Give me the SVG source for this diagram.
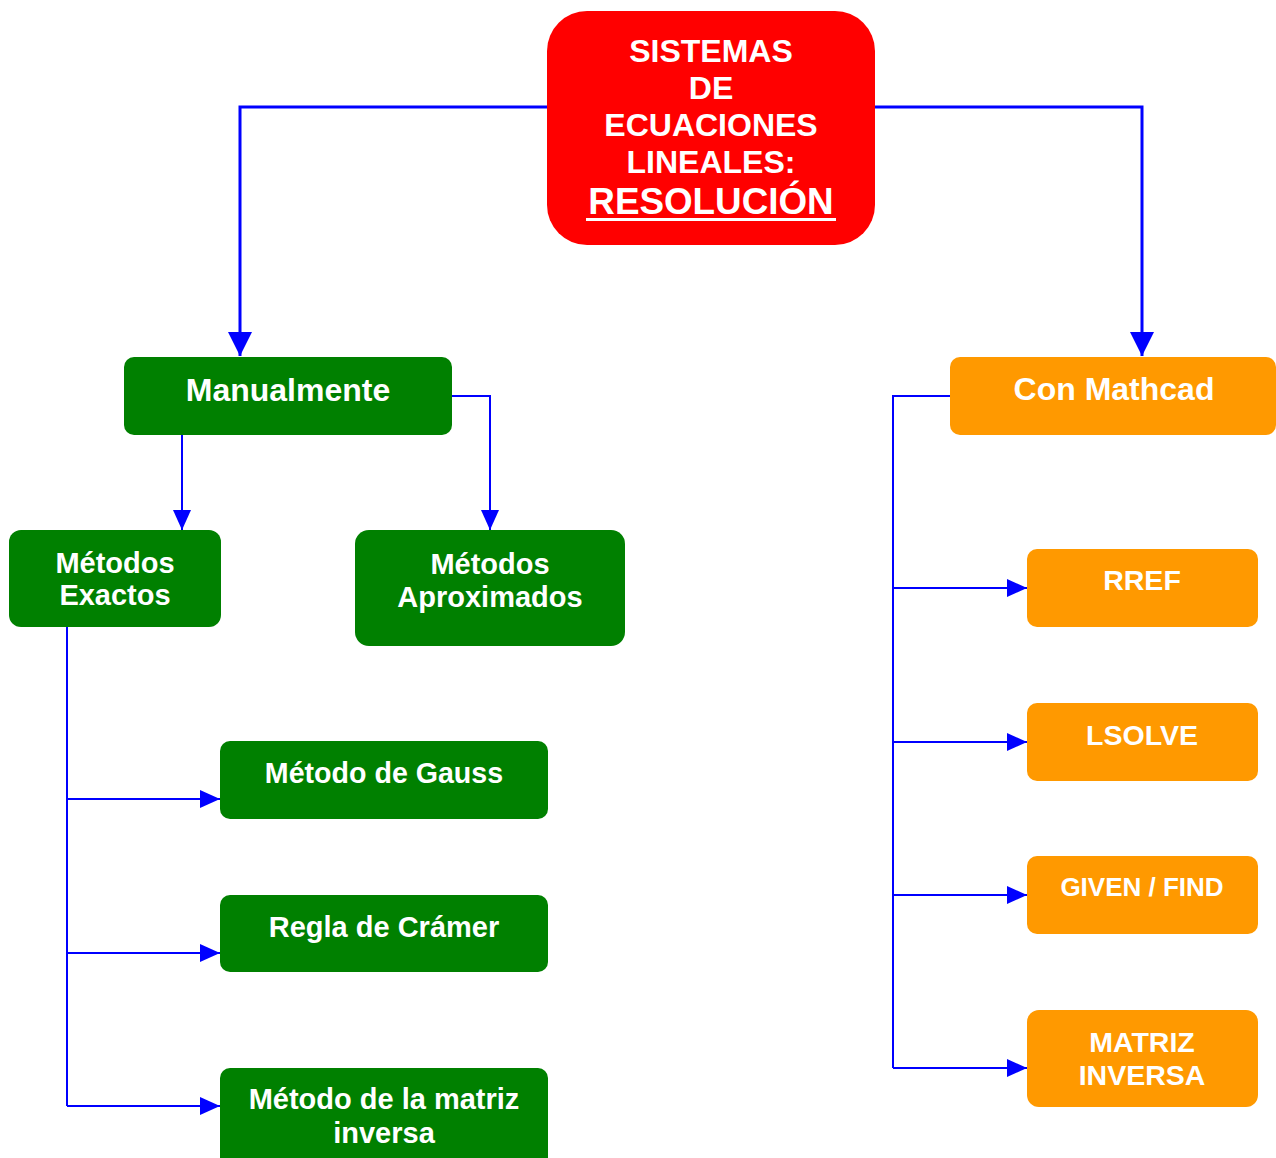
<svg xmlns="http://www.w3.org/2000/svg" width="1276" height="1158" viewBox="0 0 1276 1158">
<style>
.t{font-family:"Liberation Sans",Arial,sans-serif;font-weight:bold;fill:#fff;text-anchor:middle}
.g{fill:#008000}
.o{fill:#FF9900}
.c{fill:none;stroke:#0000FF;stroke-width:2}
.c3{fill:none;stroke:#0000FF;stroke-width:3}
</style>
<defs>
<marker id="ab" markerUnits="userSpaceOnUse" viewBox="0 0 24 24" refX="24" refY="12" markerWidth="24" markerHeight="24" orient="auto"><path d="M0,0 L24,12 L0,24 Z" fill="#0000FF"/></marker>
<marker id="as" markerUnits="userSpaceOnUse" viewBox="0 0 20 18" refX="20" refY="9" markerWidth="20" markerHeight="18" orient="auto"><path d="M0,0 L20,9 L0,18 Z" fill="#0000FF"/></marker>
</defs>
<rect width="1276" height="1158" fill="#fff"/>
<g id="connectors">
<path class="c3" d="M547,107 H240 V356" marker-end="url(#ab)"/>
<path class="c3" d="M875,107 H1142 V356" marker-end="url(#ab)"/>
<path class="c" d="M182,435 V530" marker-end="url(#as)"/>
<path class="c" d="M452,396 H490 V530" marker-end="url(#as)"/>
<path class="c" d="M67,627 V1106"/>
<path class="c" d="M67,799 H220" marker-end="url(#as)"/>
<path class="c" d="M67,953 H220" marker-end="url(#as)"/>
<path class="c" d="M67,1106 H220" marker-end="url(#as)"/>
<path class="c" d="M950,396 H893 V1068"/>
<path class="c" d="M893,588 H1027" marker-end="url(#as)"/>
<path class="c" d="M893,742 H1027" marker-end="url(#as)"/>
<path class="c" d="M893,895 H1027" marker-end="url(#as)"/>
<path class="c" d="M893,1068 H1027" marker-end="url(#as)"/>
</g>
<g id="root">
<rect x="547" y="11" width="328" height="234" rx="40" fill="#FF0000"/>
<text class="t" font-size="32" x="711" y="62">SISTEMAS</text>
<text class="t" font-size="32" x="711" y="99">DE</text>
<text class="t" font-size="32" x="711" y="136">ECUACIONES</text>
<text class="t" font-size="32" x="711" y="173">LINEALES:</text>
<text class="t" font-size="36.8" x="711" y="214">RESOLUCIÓN</text>
<rect x="586" y="218" width="250" height="3" fill="#fff"/>
</g>
<g id="manualmente">
<rect class="g" x="124" y="357" width="328" height="78" rx="10"/>
<text class="t" font-size="32" x="288" y="401">Manualmente</text>
</g>
<g id="mathcad">
<rect class="o" x="950" y="357" width="326" height="78" rx="10"/>
<text class="t" font-size="32" x="1114" y="400">Con Mathcad</text>
</g>
<g id="exactos">
<rect class="g" x="9" y="530" width="212" height="97" rx="12"/>
<text class="t" font-size="29" x="115" y="573">Métodos</text>
<text class="t" font-size="29" x="115" y="605">Exactos</text>
</g>
<g id="aproximados">
<rect class="g" x="355" y="530" width="270" height="116" rx="14"/>
<text class="t" font-size="29" x="490" y="574">Métodos</text>
<text class="t" font-size="29" x="490" y="607">Aproximados</text>
</g>
<g id="gauss">
<rect class="g" x="220" y="741" width="328" height="78" rx="10"/>
<text class="t" font-size="28.6" x="384" y="783">Método de Gauss</text>
</g>
<g id="cramer">
<rect class="g" x="220" y="895" width="328" height="77" rx="10"/>
<text class="t" font-size="29" x="384" y="937">Regla de Crámer</text>
</g>
<g id="matriz-inversa">
<rect class="g" x="220" y="1068" width="328" height="100" rx="10"/>
<text class="t" font-size="29" x="384" y="1109">Método de la matriz</text>
<text class="t" font-size="29" x="384" y="1143">inversa</text>
</g>
<g id="rref">
<rect class="o" x="1027" y="549" width="231" height="78" rx="10"/>
<text class="t" font-size="28.5" x="1142" y="590">RREF</text>
</g>
<g id="lsolve">
<rect class="o" x="1027" y="703" width="231" height="78" rx="10"/>
<text class="t" font-size="28.5" x="1142" y="745">LSOLVE</text>
</g>
<g id="givenfind">
<rect class="o" x="1027" y="856" width="231" height="78" rx="10"/>
<text class="t" font-size="26" x="1142" y="896">GIVEN / FIND</text>
</g>
<g id="matriz">
<rect class="o" x="1027" y="1010" width="231" height="97" rx="12"/>
<text class="t" font-size="28.5" x="1142" y="1052">MATRIZ</text>
<text class="t" font-size="28.5" x="1142" y="1085">INVERSA</text>
</g>
</svg>
